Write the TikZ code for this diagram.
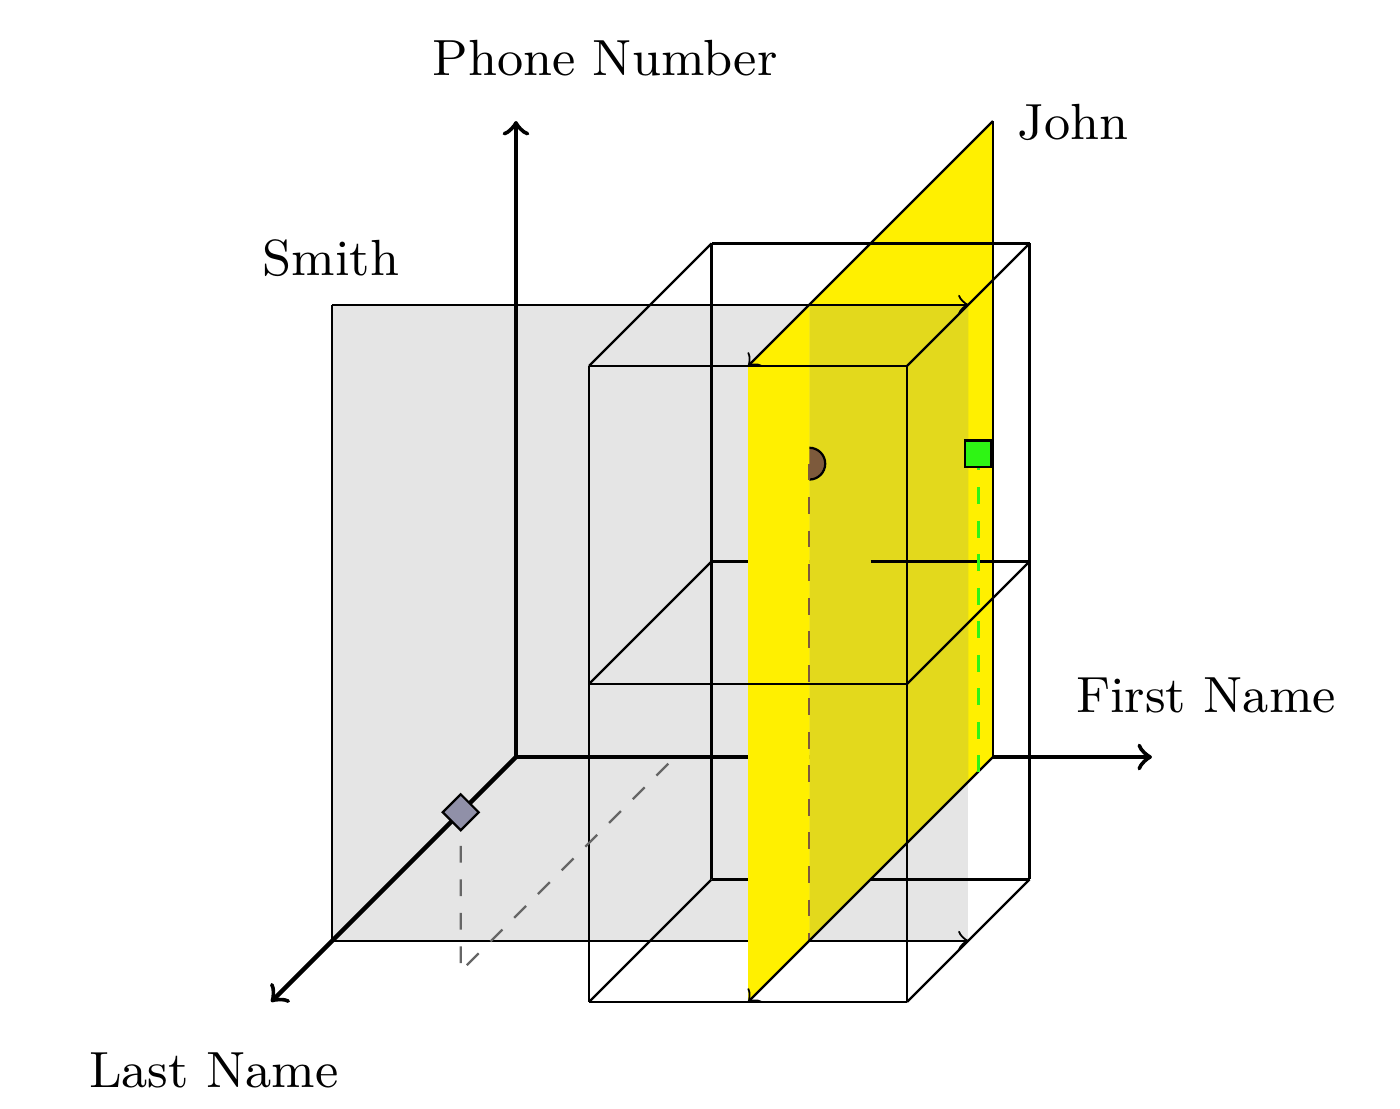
\documentclass[tikz,border=0pt]{standalone}
\usepackage{tikz}

\definecolor{planeyellow}{RGB}{255,240,0}
\definecolor{shadeyellow}{RGB}{227,217,28}
\definecolor{pointgreen}{RGB}{46,245,20}
\definecolor{pointbrown}{RGB}{125,90,60}
\definecolor{pointgray}{RGB}{144,144,168}

\begin{document}
\begin{tikzpicture}[x=1cm, y=1cm, z={(-0.77cm,-0.77cm)},
    every node/.style={font=\fontsize{9.1}{11}\selectfont},
    axis/.style={thick, ->}]
    \useasboundingbox (-3.245,-2.208) rectangle (5.560,4.761);

    \fill[gray!20] (0,0,1.5) -- (4,0,1.5) -- (4,4,1.5) -- (0,4,1.5) -- cycle;

    \coordinate (o) at (0,0,0);
    \coordinate (phoneend) at (0,4,0);
    \coordinate (firstend) at (4,0,0);
    \coordinate (lastend) at (0,0,2);
    \draw[axis] (o) -- (phoneend);
    \draw[axis] (o) -- (firstend);
    \draw[axis] (o) -- (lastend);

    \draw (2,0,2) -- (2,4,2);
    \draw (2,0,1) -- (2,4,1);
    \foreach \y in {0,2,4} {
        \draw (2,\y,1) -- (2,\y,2);
        \draw (2,\y,1) -- (3,\y,1);
        \draw (2,\y,2) -- (3,\y,2);
    }

    \fill[planeyellow] (3,0,0) -- (3,4,0) -- (3,4,1.5) -- (3,0,1.5) -- cycle;
    \begin{scope}
        \clip (0,0,1.5) -- (4,0,1.5) -- (4,4,1.5) -- (0,4,1.5) -- cycle;
        \fill[shadeyellow] (3,0,0) -- (3,4,0) -- (3,4,1.5) -- (3,0,1.5) -- cycle;
    \end{scope}

    \draw[->] (0,4,1.5) -- (4,4,1.5);
    \draw[->] (0,0,1.5) -- (4,0,1.5);
    \draw (0,0,1.5) -- (0,4,1.5);

    \coordinate (brownpt) at (3,3,1.5);
    \filldraw[fill=pointbrown] (brownpt) circle (0.1);

    \fill[planeyellow] (3,0,1.5) -- (3,4,1.5) -- (3,4,2) -- (3,0,2) -- cycle;
    \draw[dashed, pointbrown] (brownpt) -- (3,0,1.5);

    \draw (3,0,0) -- (3,4,0);
    \draw[->] (3,4,0) -- (3,4,2);
    \draw[->] (3,0,0) -- (3,0,2);

    \draw (4,0,2) -- (4,4,2);
    \draw (4,0,1) -- (4,4,1);
    \foreach \y in {0,2,4} {
        \draw (4,\y,1) -- (4,\y,2);
        \draw (3,\y,1) -- (4,\y,1);
        \draw (3,\y,2) -- (4,\y,2);
    }

    \coordinate (greenpt) at (3,2,0.12);
    \draw[dashed, semithick, pointgreen] (greenpt) -- (3,0,0.12);
    \node[draw, fill=pointgreen, minimum size=0.165cm, inner sep=0] (greensq) at (greenpt) {};

    \coordinate (graypt) at (1,1,1.75);
    \draw[dashed, gray!80!black] (graypt) -- (1,0,1.75) -- (1,0,0);
    \node[draw, fill=pointgray, rotate=45, minimum size=0.16cm, inner sep=0] (graysq) at (graypt) {};

    \node (phone) at (0.56,4.396) {Phone Number};
    \node (john) at (3.503,3.994) {John};
    \node (smith) at (-1.164,3.138) {Smith};
    \node (first) at (4.34,0.39) {First Name};
    \node (last) at (-1.90,-1.97) {Last Name};
\end{tikzpicture}
\end{document}
